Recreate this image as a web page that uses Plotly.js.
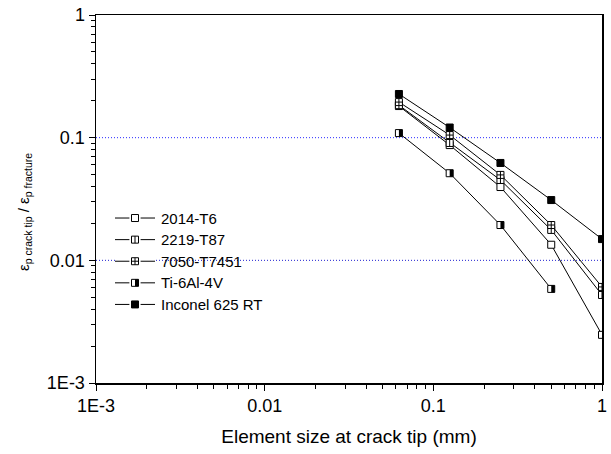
<!DOCTYPE html>
<html>
<head>
<meta charset="utf-8">
<script src="https://cdn.plot.ly/plotly-3.0.1.min.js"></script>
<style>html,body{margin:0;padding:0;background:#fff;}#chart{width:611px;height:454px;}</style>
</head>
<body>
<div id="chart"></div>
<script>
// ---- data ----
var elementSize = [0.0625, 0.125, 0.25, 0.5, 1];
var seriesNames = ['2014-T6', '2219-T87', '7050-T7451', 'Ti-6Al-4V', 'Inconel 625 RT'];
var s2014 = [0.181, 0.087, 0.0396, 0.0134, 0.00247];
var s2219 = [0.184, 0.0905, 0.0452, 0.0177, 0.00522];
var s7050 = [0.195, 0.105, 0.0497, 0.0194, 0.00607];
var sTi = [0.109, 0.0513, 0.0194, 0.00585, null];
var sInconel = [0.227, 0.121, 0.0622, 0.031, 0.0149];
var refLines = [0.1, 0.01];
var refColors = ['#2b2bff', '#2020d0'];
var xTickVals = [0.001, 0.01, 0.1, 1];
var xTickText = ['1E-3', '0.01', '0.1', '1'];
var yTickVals = [0.001, 0.01, 0.1, 1];
var yTickText = ['1E-3', '0.01', '0.1', '1'];

var FONT = 'Liberation Sans, Arial, sans-serif';
var MS = 7;

function baseMarker(fill, symbol) {
  return {symbol: symbol || 'square', size: MS, color: fill, line: {color: '#000', width: 1}};
}
var styles = [
  {marker: baseMarker('#fff'), overlay: null},
  {marker: baseMarker('#fff'), overlay: 'vline'},
  {marker: baseMarker('#fff', 'square-cross'), overlay: null},
  {marker: baseMarker('#fff'), overlay: 'half'},
  {marker: baseMarker('#000'), overlay: null}
];
var allY = [s2014, s2219, s7050, sTi, sInconel];

var traces = [];
// reference dotted lines
refLines.forEach(function (v, k) {
  traces.push({x: [xTickVals[0], xTickVals[xTickVals.length - 1]], y: [v, v], mode: 'lines',
    line: {color: refColors[k], width: 1, dash: '1px,2px'}, hoverinfo: 'skip', showlegend: false});
});

// log-shift for half fill overlay: ~1.75 px at 506px for 3 decades
var plotW = 611 - 96 - 9;
var dShift = 1.75 / plotW * 3;

allY.forEach(function (ys, i) {
  traces.push({x: elementSize, y: ys, mode: 'lines+markers', name: seriesNames[i],
    line: {color: '#000', width: 1}, marker: styles[i].marker, showlegend: false});
  if (styles[i].overlay === 'vline') {
    traces.push({x: elementSize, y: ys, mode: 'markers', hoverinfo: 'skip', showlegend: false,
      marker: {symbol: 'line-ns', size: 5, color: '#000', line: {color: '#000', width: 1}}});
  }
  if (styles[i].overlay === 'half') {
    traces.push({x: elementSize, y: ys, xaxis: 'x2', yaxis: 'y', mode: 'markers', hoverinfo: 'skip', showlegend: false,
      marker: {symbol: 'line-ns', size: 5, color: '#000', line: {color: '#000', width: 3.5}}});
  }
});

// custom legend (drawn on its own hidden axes)
var legShift = 1.75 / 40;
var annotations = [];
seriesNames.forEach(function (nm, i) {
  traces.push({x: [0, 0.36, null, 0.64, 1], y: [i, i, null, i, i], xaxis: 'x3', yaxis: 'y3', mode: 'lines',
    line: {color: '#000', width: 1}, hoverinfo: 'skip', showlegend: false});
  traces.push({x: [0.5], y: [i], xaxis: 'x3', yaxis: 'y3', mode: 'markers', marker: styles[i].marker,
    hoverinfo: 'skip', showlegend: false});
  if (styles[i].overlay === 'vline') {
    traces.push({x: [0.5], y: [i], xaxis: 'x3', yaxis: 'y3', mode: 'markers', hoverinfo: 'skip', showlegend: false,
      marker: {symbol: 'line-ns', size: 5, color: '#000', line: {color: '#000', width: 1}}});
  }
  if (styles[i].overlay === 'half') {
    traces.push({x: [0.5], y: [i], xaxis: 'x4', yaxis: 'y3', mode: 'markers', hoverinfo: 'skip', showlegend: false,
      marker: {symbol: 'line-ns', size: 5, color: '#000', line: {color: '#000', width: 3.5}}});
  }
  annotations.push({text: nm, xref: 'paper', yref: 'y3', x: (159 - 96) / plotW, y: i, xanchor: 'left', yanchor: 'middle',
    showarrow: false, font: {family: FONT, size: 15, color: '#000'}});
});

annotations.push({text: 'ε<sub>p crack tip</sub> / ε<sub>p fracture</sub>', xref: 'paper', yref: 'paper',
  x: (24 - 96) / plotW, y: (383 - 212) / 368, xanchor: 'center', yanchor: 'middle', textangle: -90,
  showarrow: false, font: {family: FONT, size: 15, color: '#000'}});

var axisCommon = {
  type: 'log', range: [-3, 0], tickmode: 'array', ticks: 'outside', ticklen: 6, tickwidth: 1, tickcolor: '#000',
  showline: true, linewidth: 1.5, linecolor: '#000', mirror: true, showgrid: false, zeroline: false,
  tickfont: {family: FONT, size: 18, color: '#000'},
  minor: {ticks: 'outside', ticklen: 4, tickwidth: 1, tickcolor: '#000', dtick: 'D1', showgrid: false}
};

var layout = {
  width: 611, height: 454,
  margin: {l: 96, r: 9, t: 15, b: 71},
  paper_bgcolor: '#fff', plot_bgcolor: '#fff',
  showlegend: false,
  font: {family: FONT, color: '#000'},
  xaxis: Object.assign({}, axisCommon, {tickvals: xTickVals, ticktext: xTickText,
    title: {text: 'Element size at crack tip (mm)', font: {family: FONT, size: 19, color: '#000'}, standoff: 14}}),
  yaxis: Object.assign({}, axisCommon, {tickvals: yTickVals, ticktext: yTickText}),
  xaxis2: {type: 'log', range: [-3 - dShift, 0 - dShift], overlaying: 'x', anchor: 'y', visible: false},
  xaxis3: {domain: [(115 - 96) / plotW, (155 - 96) / plotW], range: [0, 1], anchor: 'y3', visible: false, fixedrange: true},
  xaxis4: {range: [-legShift, 1 - legShift], overlaying: 'x3', anchor: 'y3', visible: false},
  yaxis3: {domain: [0.2, 0.47], range: [4.23, -0.37], anchor: 'x3', visible: false},
  annotations: annotations
};

Plotly.newPlot('chart', traces, layout, {staticPlot: true, displayModeBar: false});
</script>
</body>
</html>
